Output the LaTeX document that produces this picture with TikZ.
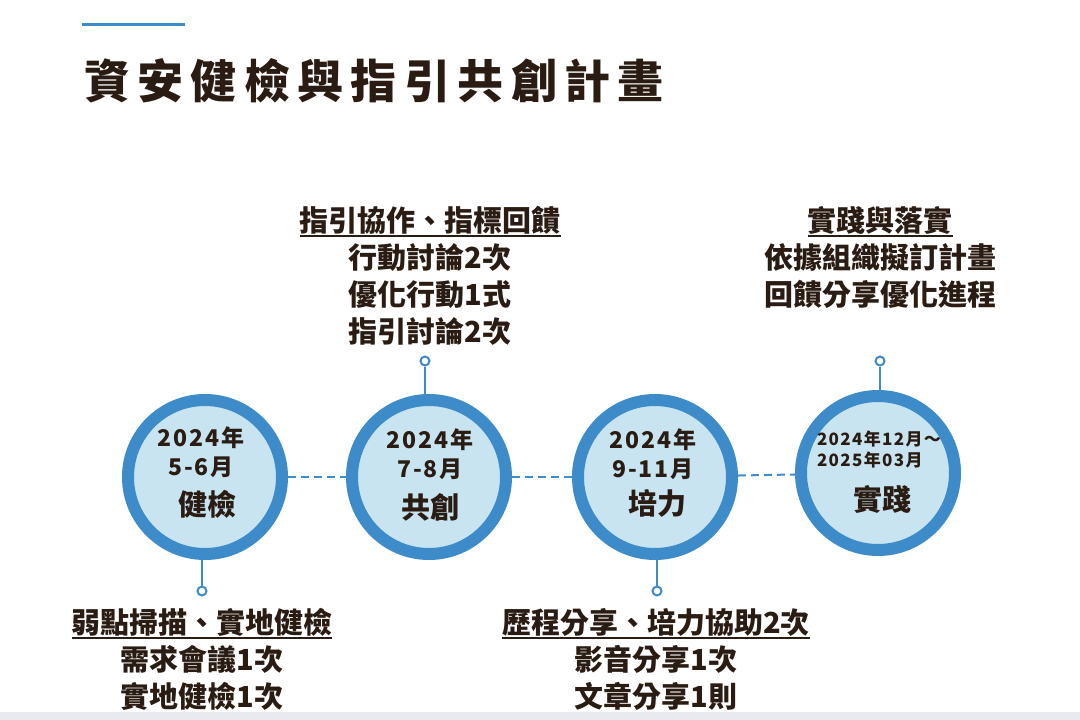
\documentclass[tikz,border=0pt]{standalone}
\usepackage{fontspec}
\setmainfont{Noto Sans CJK TC}
\newfontfamily\titlefont{Noto Sans CJK TC}[LetterSpace=16]
\newfontfamily\datefont{Noto Sans CJK TC}[LetterSpace=8]

\definecolor{ringblue}{RGB}{62,139,202}
\definecolor{discfill}{RGB}{200,228,240}
\definecolor{inkbrown}{RGB}{42,28,18}
\definecolor{stripgray}{RGB}{233,234,240}

% heading with a thick rule under it
\newsavebox\headbox
\newcommand{\headrule}[1]{\sbox\headbox{#1}\rlap{\rule[-6pt]{\wd\headbox}{2pt}}\usebox\headbox}

\begin{document}
\begin{tikzpicture}[x=1pt, y=-1pt,
    stage/.style={circle, draw=ringblue, line width=12pt, fill=discfill, minimum size=154pt, inner sep=0pt},
    pin/.style={circle, draw=ringblue, line width=2pt, fill=white, minimum size=9pt, inner sep=0pt},
    stem/.style={draw=ringblue, line width=2pt},
    link/.style={draw=ringblue, line width=2pt, dash pattern=on 8pt off 5pt},
    date/.style={text=inkbrown, font=\datefont\bfseries\fontsize{23}{29}\selectfont, align=center, inner sep=0pt},
    phase/.style={text=inkbrown, font=\bfseries\fontsize{29}{30}\selectfont, inner sep=0pt},
    notes/.style={text=inkbrown, font=\bfseries\fontsize{29}{37}\selectfont, align=center, anchor=north, inner sep=0pt}]
  \useasboundingbox (0,0) rectangle (1080,720);
  \fill[stripgray] (0,712) rectangle (1080,720);

  % title
  \draw[ringblue, line width=3pt] (82,24) -- (185,24);
  \node[anchor=west, inner sep=0pt, text=inkbrown, font=\titlefont\bfseries\fontsize{46}{50}\selectfont] (title) at (84,81) {資安健檢與指引共創計畫};

  % stages
  \node[stage] (c1) at (205,477) {};
  \node[stage] (c2) at (429,477) {};
  \node[stage] (c3) at (655,477) {};
  \node[stage] (c4) at (878,473) {};
  \draw[link] (c1) -- (c2);
  \draw[link] (c2) -- (c3);
  \draw[link] (c3) -- (c4);

  \node[date] (d1) at (201,452) {2024年\\5-6月};
  \node[phase] (n1) at (207,504) {健檢};
  \node[date] (d2) at (430,454) {2024年\\7-8月};
  \node[phase] (n2) at (430,507) {共創};
  \node[date] (d3) at (653,454) {2024年\\9-11月};
  \node[phase] (n3) at (657,503) {培力};
  \node[date, align=left, font=\datefont\bfseries\fontsize{17}{21}\selectfont] (d4) at (879,450) {2024年12月～\\2025年03月};
  \node[phase] (n4) at (882,499) {實踐};

  % pins
  \node[pin] (p1) at (202,591) {};
  \node[pin] (p2) at (425,361) {};
  \node[pin] (p3) at (657,591) {};
  \node[pin] (p4) at (880,361) {};
  \draw[stem] (c1.south -| p1) -- (p1);
  \draw[stem] (c2.north -| p2) -- (p2);
  \draw[stem] (c3.south -| p3) -- (p3);
  \draw[stem] (c4.north -| p4) -- (p4);

  % notes
  \node[notes] (t1) at (202,608) {\headrule{弱點掃描、實地健檢}\\需求會議1次\\實地健檢1次};
  \node[notes] (t2) at (430,206) {\headrule{指引協作、指標回饋}\\行動討論2次\\優化行動1式\\指引討論2次};
  \node[notes] (t3) at (656,608) {\headrule{歷程分享、培力協助2次}\\影音分享1次\\文章分享1則};
  \node[notes] (t4) at (880,206) {\headrule{實踐與落實}\\依據組織擬訂計畫\\回饋分享優化進程};
\end{tikzpicture}
\end{document}
